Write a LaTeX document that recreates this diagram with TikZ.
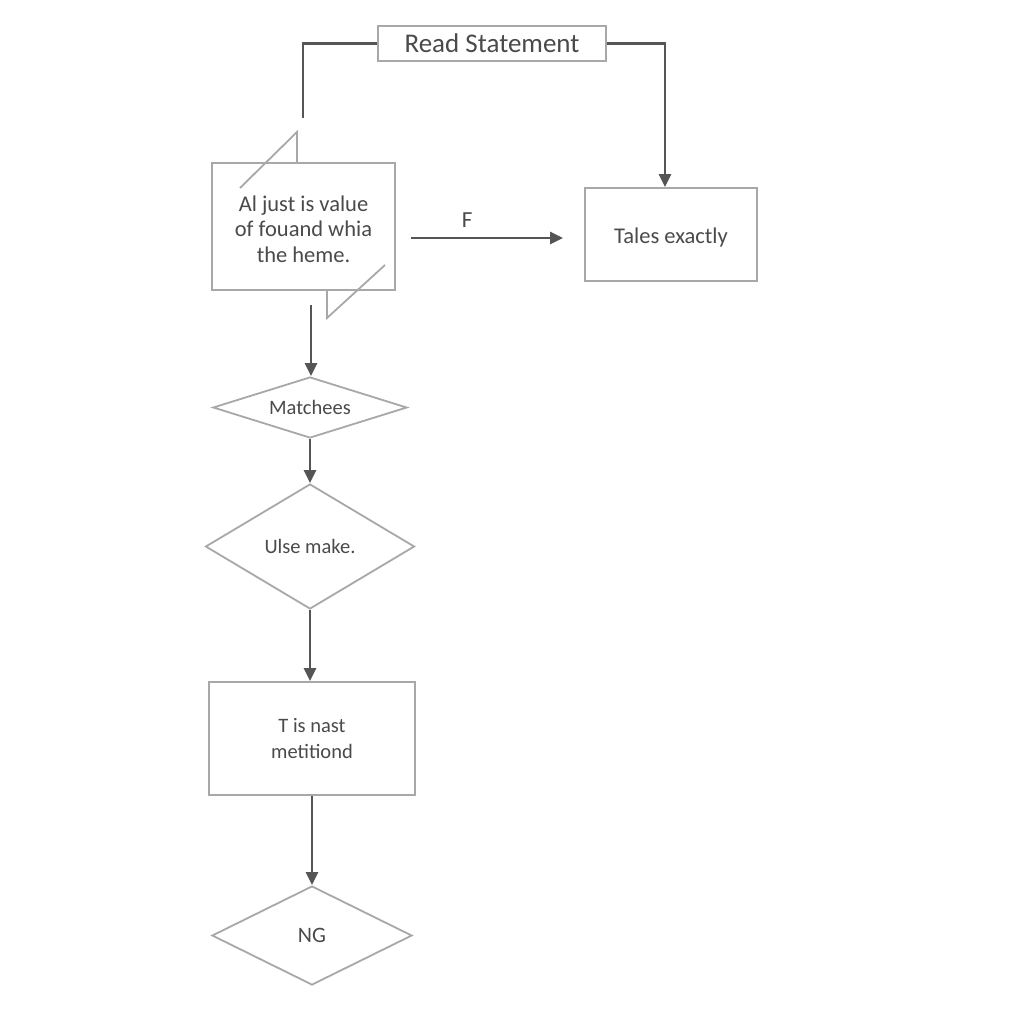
\documentclass[tikz,border=0pt]{standalone}
\usepackage{fontspec}
\setmainfont{Carlito}
\usetikzlibrary{shapes.geometric,arrows.meta}
\definecolor{boxgray}{HTML}{A8A8A8}
\definecolor{linegray}{HTML}{555555}
\definecolor{txtgray}{HTML}{4A4A4A}
\tikzset{
  box/.style={draw=boxgray, line width=1.8pt, rectangle, inner sep=0pt, text=txtgray, align=center},
  dia/.style={draw=boxgray, line width=1.8pt, diamond, inner sep=0pt, text=txtgray, align=center},
  conn/.style={draw=linegray, line width=2.6pt},
  arr/.style={conn, -{Triangle[length=13pt,width=12pt]}},
  body/.style={font=\fontsize{20.5}{25.5}\selectfont},
  big/.style={font=\fontsize{22.5}{25.5}\selectfont},
  lbl/.style={text=txtgray, align=center, inner sep=0pt}
}
\begin{document}
\begin{tikzpicture}[x=1pt,y=-1pt]
\useasboundingbox[fill=white] (0,0) rectangle (1024,1024);
% nodes
\node[box, minimum width=228pt, minimum height=35pt, font=\fontsize{27}{30}\selectfont] (read) at (492,43.5) {Read Statement};
\node[box, minimum width=172pt, minimum height=93pt] (tales) at (671,234.5) {};
\node[lbl, big] (talestext) at (671,238) {Tales exactly};
\node[box, minimum width=183pt, minimum height=127pt] (bubble) at (303.5,226.5) {};
\node[lbl, big] (bubbletext) at (303.5,229) {Al just is value\\of fouand whia\\the heme.};
\node[dia, minimum width=194pt, minimum height=61pt, shape aspect=3.2, body] (match) at (310,407.5) {Matchees};
\node[dia, minimum width=209pt, minimum height=125pt, shape aspect=1.67, body] (ulse) at (310,546.5) {Ulse make.};
\node[box, minimum width=206pt, minimum height=113pt, body] (tnot) at (312,738.5) {T is nast\\metitiond};
\node[dia, minimum width=200pt, minimum height=99pt, shape aspect=2, font=\fontsize{22}{25}\selectfont, text=txtgray] (ng) at (312,935.5) {NG};
% bubble notches
\coordinate (n1a) at (297,163);
\coordinate (n1b) at (297,132);
\coordinate (n1c) at (240,188);
\coordinate (n2a) at (327,290);
\coordinate (n2b) at (327,318);
\coordinate (n2c) at (385,265);
\draw[draw=boxgray, line width=1.8pt] (n1a) -- (n1b) -- (n1c);
\draw[draw=boxgray, line width=1.8pt] (n2a) -- (n2b) -- (n2c);
% connectors
\coordinate (leftend) at (303,118);
\draw[conn] (read.west) -| (leftend);
\draw[arr] (read.east) -| (tales.north -| 665,0);
\coordinate (fstart) at (411,238);
\coordinate (fend) at (563,238);
\draw[arr] (fstart) -- node[pos=0.37, above=6pt, text=txtgray, font=\fontsize{23}{24}\selectfont] (flabel) {F} (fend);
\coordinate (dstart) at (311,305);
\draw[arr] (dstart) -- (dstart |- match.north);
\draw[arr] (match.south) -- (ulse.north);
\draw[arr] (ulse.south) -- (tnot.north -| ulse.south);
\draw[arr] (tnot.south) -- (ng.north);
\end{tikzpicture}
\end{document}
